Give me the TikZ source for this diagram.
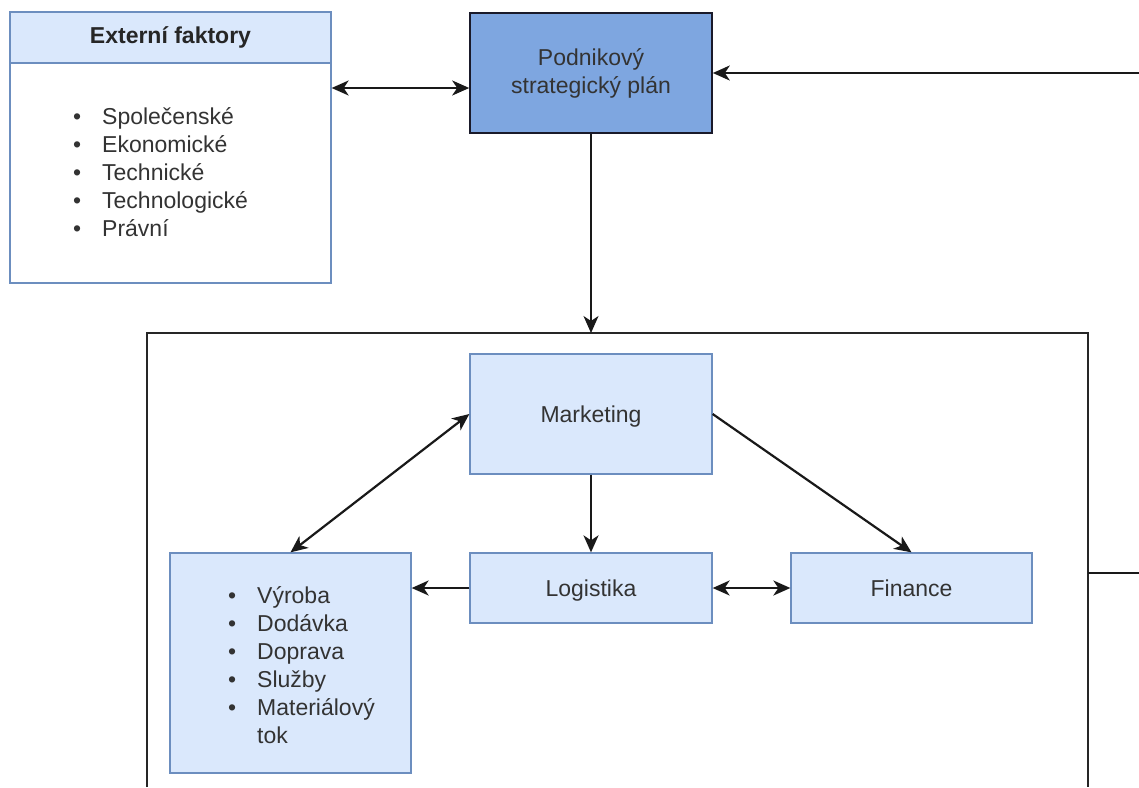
\documentclass[tikz,border=0pt]{standalone}
\usepackage{fontspec}
\setmainfont{Liberation Sans}
\usetikzlibrary{arrows.meta}
\definecolor{lightfill}{HTML}{DAE8FC}
\definecolor{lightline}{HTML}{6C8EBF}
\definecolor{darkfill}{HTML}{7EA6E0}
\definecolor{darkline}{HTML}{1A1A2A}
\definecolor{textgray}{HTML}{333333}
\newcommand{\bulletrow}[1]{\makebox[29pt][l]{\textbullet}&#1\\}
\begin{document}
\begin{tikzpicture}[x=1pt,y=-1pt,
  basefont/.style={font=\fontsize{23}{28}\selectfont},
  lbox/.style={draw=lightline, fill=lightfill, line width=1.3pt, text=textgray,
    inner sep=0pt, basefont, align=center},
  wbox/.style={lbox, fill=white},
  tip/.tip={Stealth[length=17pt,width=15pt,inset=5pt]},
  conn/.style={line width=2.2pt, draw=black!90, -tip},
  both/.style={line width=2.2pt, draw=black!90, tip-tip},
  listtext/.style={basefont, text=textgray, inner sep=0pt, anchor=base west},
]
\useasboundingbox (0,0) rectangle (1139,787);

% external factors: header and body
\node[lbox, minimum width=321pt, minimum height=51pt, font=\fontsize{23}{28}\selectfont\bfseries, text=black!85]
  (exttitle) at (170.5,37.5) {Externí faktory};
\node[wbox, minimum width=321pt, minimum height=220pt] (extbody) at (170.5,173) {};
\node[listtext] (extlist) at (73,124) {\begin{tabular}[t]{@{}l@{}l@{}}
  \bulletrow{Společenské}
  \bulletrow{Ekonomické}
  \bulletrow{Technické}
  \bulletrow{Technologické}
  \bulletrow{Právní}
\end{tabular}};

% corporate strategic plan
\node[draw=darkline, fill=darkfill, line width=1.6pt, text=textgray, basefont, align=center,
  minimum width=242pt, minimum height=120pt, inner sep=0pt]
  (plan) at (591,73) {Podnikový\\strategický plán};

% enclosing frame (open at the bottom)
\coordinate (frameBL) at (147,787);
\coordinate (frameTL) at (147,333);
\coordinate (frameTR) at (1088,333);
\coordinate (frameBR) at (1088,787);
\coordinate (frametop) at (591,333);
\draw[line width=1.6pt, draw=black!85] (frameBL) -- (frameTL) -- (frameTR) -- (frameBR);

% inner departments
\node[lbox, minimum width=242pt, minimum height=120pt, text depth=0pt] (mkt) at (591,414) {Marketing};
\node[lbox, minimum width=242pt, minimum height=70pt, text depth=0pt] (log) at (591,588) {Logistika};
\node[lbox, minimum width=241pt, minimum height=70pt] (fin) at (911.5,588) {Finance};
\node[lbox, minimum width=241pt, minimum height=220pt] (vyr) at (290.5,663) {};
\node[listtext] (vyrlist) at (228,603) {\begin{tabular}[t]{@{}l@{}l@{}}
  \bulletrow{Výroba}
  \bulletrow{Dodávka}
  \bulletrow{Doprava}
  \bulletrow{Služby}
  \bulletrow{Materiálový}
  & tok\\
\end{tabular}};

% outside links on the right
\coordinate (rightin) at (1139,73);
\coordinate (frameR) at (1088,573);
\coordinate (rightout) at (1139,573);

% connectors
\draw[both] ([yshift=85pt]extbody.east) -- ([yshift=-15pt]plan.west);
\draw[conn] (rightin) -- (plan.east);
\draw[conn] (plan.south) -- (frametop);
\draw[line width=2.2pt, draw=black!90] (frameR) -- (rightout);
\draw[both] (vyr.north) -- (mkt.west);
\draw[conn] (mkt.east) -- (fin.north);
\draw[conn] (mkt.south) -- (log.north);
\draw[conn] (log.west) -- ([yshift=75pt]vyr.east);
\draw[both] (log.east) -- (fin.west);
\end{tikzpicture}
\end{document}
